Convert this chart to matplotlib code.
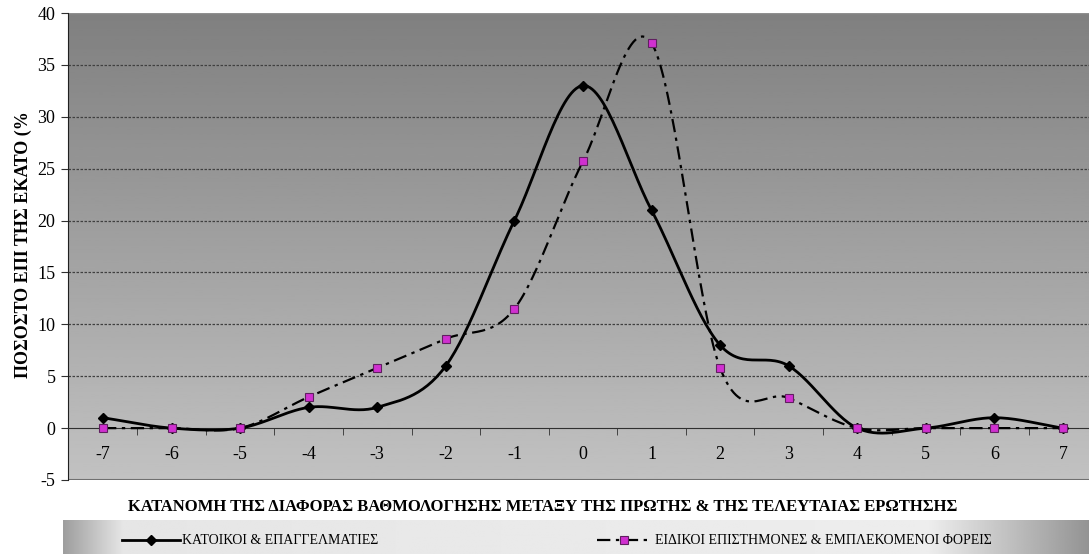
import numpy as np
import matplotlib
matplotlib.use("Agg")
import matplotlib.pyplot as plt
from matplotlib.lines import Line2D

plt.rcParams['font.family'] = ['Liberation Serif', 'DejaVu Serif']

categories = [-7, -6, -5, -4, -3, -2, -1, 0, 1, 2, 3, 4, 5, 6, 7]
residents = [1, 0, 0, 2, 2, 6, 20, 33, 21, 8, 6, 0, 0, 1, 0]
experts = [0, 0, 0, 3, 5.8, 8.6, 11.5, 25.7, 37.1, 5.8, 2.9, 0, 0, 0, 0]

label_residents = "ΚΑΤΟΙΚΟΙ & ΕΠΑΓΓΕΛΜΑΤΙΕΣ"
label_experts = "ΕΙΔΙΚΟΙ ΕΠΙΣΤΗΜΟΝΕΣ & ΕΜΠΛΕΚΟΜΕΝΟΙ ΦΟΡΕΙΣ"
title = "ΚΑΤΑΝΟΜΗ ΤΗΣ ΔΙΑΦΟΡΑΣ ΒΑΘΜΟΛΟΓΗΣΗΣ ΜΕΤΑΞΥ ΤΗΣ ΠΡΩΤΗΣ & ΤΗΣ ΤΕΛΕΥΤΑΙΑΣ ΕΡΩΤΗΣΗΣ"
ylabel = "ΠΟΣΟΣΤΟ ΕΠΙ ΤΗΣ ΕΚΑΤΟ (%"


def smooth(x, y, n=30):
    # catmull-rom, like excel's smoothed line
    x = np.asarray(x, float)
    y = np.asarray(y, float)
    px = np.concatenate([[2 * x[0] - x[1]], x, [2 * x[-1] - x[-2]]])
    py = np.concatenate([[2 * y[0] - y[1]], y, [2 * y[-1] - y[-2]]])
    xs, ys = [], []
    t = np.linspace(0, 1, n, endpoint=False)
    for i in range(1, len(px) - 2):
        for p, out in ((px, xs), (py, ys)):
            p0, p1, p2, p3 = p[i - 1], p[i], p[i + 1], p[i + 2]
            out.extend(0.5 * (2 * p1 + (-p0 + p2) * t
                              + (2 * p0 - 5 * p1 + 4 * p2 - p3) * t ** 2
                              + (-p0 + 3 * p1 - 3 * p2 + p3) * t ** 3))
    xs.append(x[-1])
    ys.append(y[-1])
    return np.array(xs), np.array(ys)


fig = plt.figure(figsize=(10.89, 5.54), dpi=100)

# legend band at the bottom
band = fig.add_axes([63 / 1089, 0, 1 - 63 / 1089, 34 / 554])
grad = np.concatenate([np.linspace(0.62, 0.9, 60), np.linspace(0.9, 0.93, 800),
                       np.linspace(0.93, 0.58, 160)])
band.imshow(grad[None, :], cmap='gray', vmin=0, vmax=1, aspect='auto',
            extent=[0, 1, 0, 1])
band.set_axis_off()

ax = fig.add_axes([68 / 1089, 74 / 554, 1 - 68 / 1089, 467 / 554])
ax.set_xlim(-7.51, 7.38)
ax.set_ylim(-5, 40)

vgrad = np.linspace(0.76, 0.5, 256)[:, None]
ax.imshow(vgrad[::-1], cmap='gray', vmin=0, vmax=1, aspect='auto',
          extent=[-7.51, 7.38, -5, 40], zorder=0)

for yv in range(5, 40, 5):
    ax.axhline(yv, color='#404040', lw=0.9, ls=(0, (2, 1.2)), zorder=1)

sx, sy = smooth(categories, residents)
ax.plot(sx, sy, color='black', lw=2, zorder=3)
ax.plot(categories, residents, ls='none', marker='D', ms=5.5, color='black', zorder=4)

ex, ey = smooth(categories, experts)
ax.plot(ex, ey, color='black', lw=1.6, ls=(0, (6, 2.5, 1.5, 2.5)), zorder=3)
ax.plot(categories, experts, ls='none', marker='s', ms=6, mfc='#d030d0',
        mec='#602060', mew=0.8, zorder=4)

for s in ['top', 'right']:
    ax.spines[s].set_visible(False)
ax.spines['left'].set_color('#202020')
ax.spines['bottom'].set_position(('data', 0))
ax.spines['bottom'].set_color('#303030')
ax.axhline(-5, color='#707070', lw=1.5, zorder=2)
ax.axhline(40, color='#909090', lw=1, zorder=2)

ax.set_yticks(range(-5, 41, 5))
ax.set_yticklabels([str(v) for v in range(-5, 41, 5)], fontsize=13)
ax.tick_params(axis='y', length=5, color='#303030', pad=4)

ax.set_xticks(categories)
ax.set_xticklabels([str(c) for c in categories], fontsize=13)
ax.set_xticks(np.arange(-6.5, 7, 1), minor=True)
ax.tick_params(axis='x', which='major', length=0, pad=13)
ax.tick_params(axis='x', which='minor', length=5, color='#303030', direction='out')

fig.text(23 / 1089, 1 - 245 / 554, ylabel, rotation=90, ha='center', va='center',
         fontsize=13, fontweight='bold')
fig.text(543 / 1089, 1 - 507 / 554, title, ha='center', va='center',
         fontsize=12, fontweight='bold')

# legend entries drawn on the band
band.set_xlim(0, 1)
band.set_ylim(0, 1)
fx = lambda px: (px - 63) / (1089 - 63)
band.add_line(Line2D([fx(122), fx(180)], [0.4, 0.4], color='black', lw=2))
band.plot([fx(151)], [0.4], marker='D', ms=5.5, color='black')
band.text(fx(182), 0.4, label_residents, va='center', ha='left', fontsize=10)
band.add_line(Line2D([fx(597), fx(652)], [0.4, 0.4], color='black', lw=1.6,
                     ls=(0, (6, 2.5, 1.5, 2.5))))
band.plot([fx(624)], [0.4], marker='s', ms=6, mfc='#d030d0', mec='#602060', mew=0.8)
band.text(fx(655), 0.4, label_experts, va='center', ha='left', fontsize=10)

fig.savefig("out.png", dpi=100)
